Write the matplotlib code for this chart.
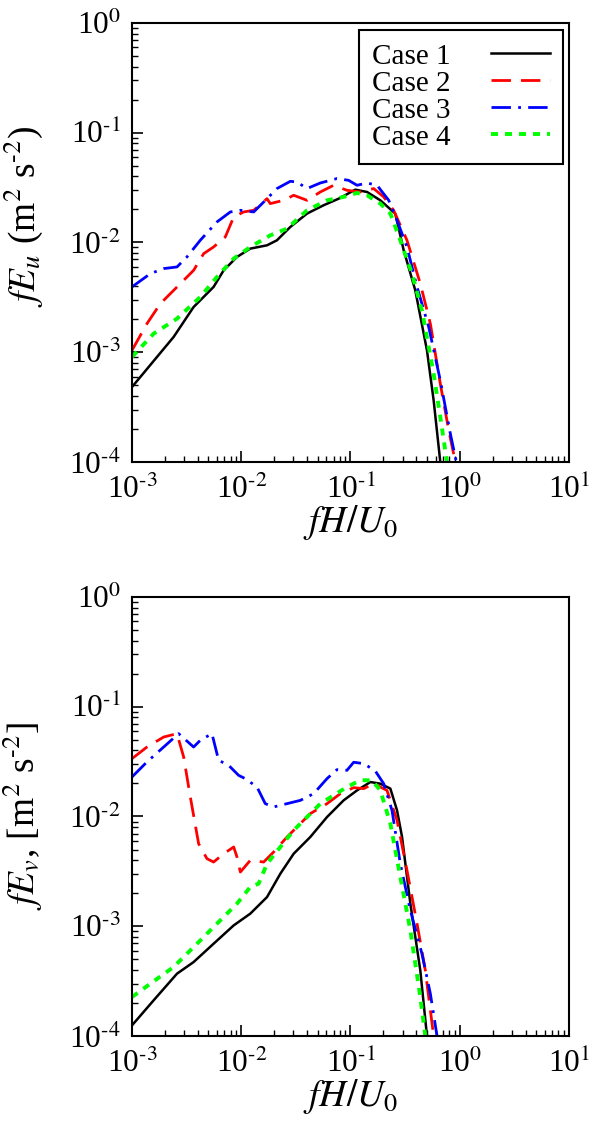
# spectra of u and v fluctuations, four cases
import numpy as np
import matplotlib
matplotlib.use('Agg')
import matplotlib.pyplot as plt
from matplotlib.ticker import LogLocator, FuncFormatter, NullFormatter

plt.rcParams['font.family'] = ['Liberation Serif', 'DejaVu Serif']
plt.rcParams['mathtext.fontset'] = 'stix'

# values, stored as log10(fH/U0) and log10(fE)
labels = ['Case 1', 'Case 2', 'Case 3', 'Case 4']

# --- top panel: fE_u
u1_x = [-3, -2.619, -2.436, -2.253, -2.161, -2.039, -1.917, -1.764, -1.673, -1.551, -1.398,
        -1.246, -1.108, -0.956, -0.849, -0.727, -0.590, -0.513, -0.407, -0.300, -0.239, -0.178]
u1_y = [-3.317, -2.861, -2.588, -2.405, -2.254, -2.132, -2.056, -2.026, -1.980, -1.859, -1.737,
        -1.661, -1.601, -1.519, -1.540, -1.616, -1.737, -2.071, -2.436, -2.983, -3.438, -4.0]

u2_x = [-3, -2.863, -2.741, -2.527, -2.436, -2.344, -2.253, -2.146, -2.069, -1.978, -1.886,
        -1.764, -1.734, -1.612, -1.520, -1.398, -1.276, -1.154, -1.032, -0.910, -0.788, -0.696,
        -0.605, -0.483, -0.361, -0.269, -0.178, -0.101, -0.040]
u2_y = [-2.983, -2.740, -2.558, -2.345, -2.254, -2.102, -2.041, -1.950, -1.768, -1.722, -1.707,
        -1.601, -1.646, -1.616, -1.570, -1.616, -1.540, -1.479, -1.525, -1.540, -1.509, -1.585,
        -1.707, -1.980, -2.375, -2.740, -3.286, -3.711, -4.0]

u3_x = [-3, -2.832, -2.710, -2.588, -2.497, -2.375, -2.222, -2.100, -2.008, -1.886, -1.764,
        -1.673, -1.551, -1.490, -1.398, -1.276, -1.124, -1.017, -0.940, -0.849, -0.757, -0.650,
        -0.574, -0.483, -0.391, -0.284, -0.178, -0.086, -0.031]
u3_y = [-2.405, -2.284, -2.238, -2.223, -2.132, -1.980, -1.813, -1.722, -1.707, -1.722, -1.601,
        -1.509, -1.443, -1.449, -1.509, -1.458, -1.418, -1.434, -1.479, -1.458, -1.479, -1.616,
        -1.798, -2.041, -2.405, -2.770, -3.256, -3.742, -4.0]

u4_x = [-3, -2.802, -2.588, -2.375, -2.222, -2.069, -1.917, -1.734, -1.581, -1.398, -1.215,
        -1.063, -0.940, -0.849, -0.727, -0.635, -0.544, -0.437, -0.346, -0.239, -0.178, -0.117]
u4_y = [-3.043, -2.831, -2.694, -2.497, -2.314, -2.147, -2.041, -1.935, -1.874, -1.707, -1.616,
        -1.585, -1.549, -1.570, -1.646, -1.737, -1.980, -2.284, -2.619, -3.196, -3.590, -4.0]

# --- bottom panel: fE_v
v1_x = [-3, -2.802, -2.588, -2.436, -2.253, -2.069, -1.917, -1.764, -1.642, -1.520, -1.368,
        -1.215, -1.063, -0.940, -0.818, -0.727, -0.635, -0.574, -0.528, -0.452, -0.361, -0.300]
v1_y = [-3.903, -3.675, -3.432, -3.326, -3.159, -2.992, -2.885, -2.734, -2.521, -2.339, -2.187,
        -2.005, -1.853, -1.762, -1.686, -1.701, -1.746, -1.944, -2.187, -2.794, -3.402, -4.0]

v2_x = [-3, -2.863, -2.710, -2.588, -2.527, -2.466, -2.390, -2.314, -2.253, -2.161, -2.069,
        -2.039, -2.008, -1.917, -1.795, -1.703, -1.581, -1.459, -1.368, -1.215, -1.093, -0.971,
        -0.879, -0.788, -0.666, -0.574, -0.483, -0.391, -0.315, -0.239]
v2_y = [-1.473, -1.367, -1.276, -1.245, -1.458, -1.822, -2.248, -2.384, -2.415, -2.339, -2.278,
        -2.369, -2.506, -2.399, -2.415, -2.323, -2.187, -2.065, -1.974, -1.883, -1.792, -1.737,
        -1.746, -1.701, -1.762, -2.035, -2.490, -2.976, -3.402, -4.0]

v3_x = [-3, -2.863, -2.710, -2.573, -2.436, -2.375, -2.268, -2.207, -2.115, -2.024, -1.963,
        -1.856, -1.780, -1.703, -1.581, -1.459, -1.337, -1.215, -1.124, -1.032, -0.971, -0.879,
        -0.773, -0.696, -0.620, -0.544, -0.452, -0.346, -0.269, -0.208]
v3_y = [-1.640, -1.503, -1.367, -1.245, -1.367, -1.306, -1.245, -1.488, -1.534, -1.625, -1.655,
        -1.731, -1.883, -1.913, -1.883, -1.853, -1.792, -1.655, -1.573, -1.579, -1.506, -1.518,
        -1.585, -1.701, -1.944, -2.430, -2.855, -3.250, -3.614, -4.0]

v4_x = [-3, -2.832, -2.619, -2.405, -2.222, -2.039, -1.917, -1.841, -1.764, -1.642, -1.520,
        -1.398, -1.276, -1.154, -1.032, -0.910, -0.803, -0.727, -0.635, -0.544, -0.452, -0.361,
        -0.315]
v4_y = [-3.645, -3.523, -3.371, -3.159, -2.976, -2.794, -2.642, -2.612, -2.430, -2.278, -2.126,
        -2.005, -1.883, -1.807, -1.731, -1.670, -1.670, -1.762, -2.065, -2.551, -3.037, -3.645,
        -4.0]

# line styles: colour, width, dash pattern
styles = [('#000000', 1.8, None),
          ('#ff0000', 2.0, (7.0, 3.6)),
          ('#0000ff', 2.0, (7.0, 2.6, 1.0, 2.6)),
          ('#00ff00', 2.8, (1.8, 1.8))]


def tick_fmt(v, pos):
    e = int(round(np.log10(v)))
    if e < 0:
        return r'10$^{\text{-}%d}$' % (-e)
    return r'10$^{%d}$' % e


def setup(ax, ylabel, ylab_y):
    ax.set_xscale('log')
    ax.set_yscale('log')
    ax.set_xlim(1e-3, 1e1)
    ax.set_ylim(1e-4, 1e0)
    for a in (ax.xaxis, ax.yaxis):
        a.set_major_locator(LogLocator(base=10, numticks=10))
        a.set_minor_locator(LogLocator(base=10, subs=np.arange(2, 10), numticks=10))
        a.set_major_formatter(FuncFormatter(tick_fmt))
        a.set_minor_formatter(NullFormatter())
    ax.tick_params(which='both', direction='in', top=False, right=False, labelsize=22.5)
    ax.tick_params(axis='x', pad=10)
    ax.tick_params(axis='y', pad=8)
    ax.tick_params(which='major', length=8, width=1.2)
    ax.tick_params(which='minor', length=4.5, width=1.0)
    for s in ax.spines.values():
        s.set_linewidth(1.5)
    ax.set_xlabel(r'$fH/U_{\mathit{0}}$', fontsize=27, labelpad=-2)
    ax.set_ylabel(ylabel, fontsize=27)
    ax.yaxis.set_label_coords(-0.2, ylab_y)


fig = plt.figure(figsize=(5.9, 11.41), dpi=100)
ax1 = fig.add_axes([0.2237, 0.5951, 0.7407, 0.3848])
ax2 = fig.add_axes([0.2237, 0.0920, 0.7407, 0.3848])

top = [(u1_x, u1_y), (u2_x, u2_y), (u3_x, u3_y), (u4_x, u4_y)]
bot = [(v1_x, v1_y), (v2_x, v2_y), (v3_x, v3_y), (v4_x, v4_y)]

for ax, data in ((ax1, top), (ax2, bot)):
    for (lx, ly), lab, (c, lw, d) in zip(data, labels, styles):
        ln, = ax.plot(10 ** np.array(lx), 10 ** np.array(ly), color=c, lw=lw, label=lab,
                      solid_joinstyle='round')
        if d is not None:
            ln.set_dashes(d)

setup(ax1, r'$fE_u$ (m$^2$ s$^{\text{-}2}$)', 0.56)
setup(ax2, r'$fE_v$, [m$^2$ s$^{\text{-}2}$]', 0.50)

leg = ax1.legend(loc='upper right', fontsize=21, markerfirst=False, fancybox=False,
                 edgecolor='black', handlelength=2.0, handletextpad=1.4, labelspacing=0.02,
                 borderpad=0.45, borderaxespad=0, bbox_to_anchor=(0.986, 0.984), framealpha=1)
leg.get_frame().set_linewidth(1.5)

fig.savefig('out.png', dpi=100)
